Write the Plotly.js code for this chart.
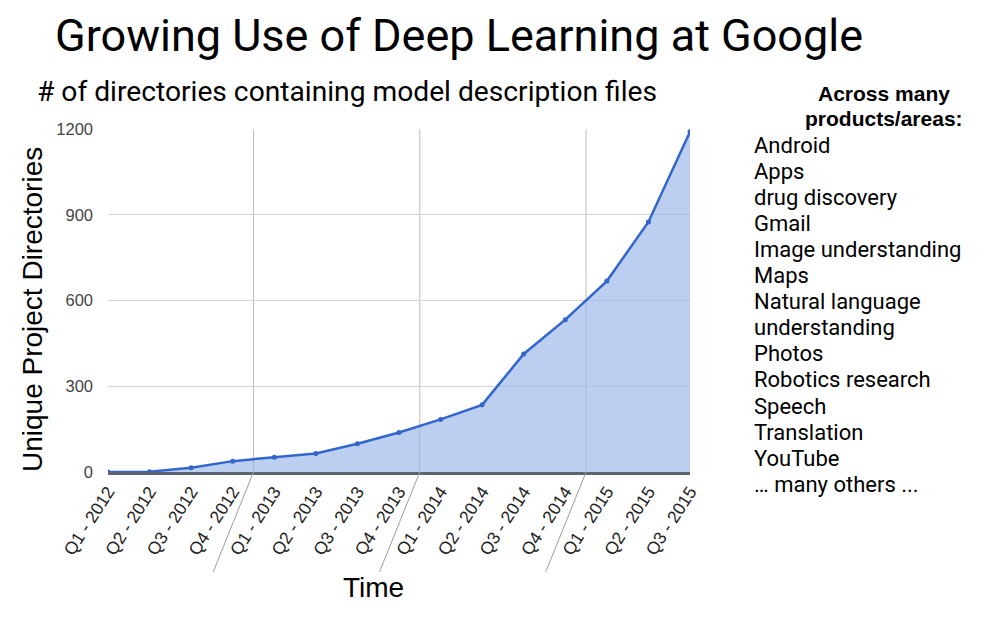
<!DOCTYPE html>
<html>
<head>
<meta charset="utf-8">
<script src="https://cdn.plot.ly/plotly-3.0.1.min.js"></script>
<style>
  body { margin: 0; background: #fff; }
  #plot { width: 1001px; height: 617px; }
</style>
</head>
<body>
<div id="plot"></div>
<script>
// quarters on the x axis
let quarters = [
    "Q1 - 2012", "Q2 - 2012", "Q3 - 2012", "Q4 - 2012",
    "Q1 - 2013", "Q2 - 2013", "Q3 - 2013", "Q4 - 2013",
    "Q1 - 2014", "Q2 - 2014", "Q3 - 2014", "Q4 - 2014",
    "Q1 - 2015", "Q2 - 2015", "Q3 - 2015"
];
// unique project directories
let directories = [0, 1, 15, 38, 52, 65, 99, 138, 184, 235, 413, 533, 668, 875, 1190];

let yTicks = [0, 300, 600, 900, 1200];

// list on the right side
let areasHeader = ["Across many", "products/areas:"];
let areas = [
    "Android", "Apps", "drug discovery", "Gmail", "Image understanding", "Maps",
    "Natural language", "understanding", "Photos", "Robotics research", "Speech",
    "Translation", "YouTube", "\u2026 many others ..."
];

// year boundaries sit halfway between Q4 and Q1
let yearBreaks = [3.5, 7.5, 11.5];

// plot area in pixels, used to place the loose text
let plotLeft = 108, plotWidth = 582, plotTop = 129, plotHeight = 343;
let plotBottom = plotTop + plotHeight;
function px(x) { return (x - plotLeft) / plotWidth; }
function py(y) { return (plotBottom - y) / plotHeight; }

let font = "'Liberation Sans', Arial, sans-serif";
let textFont = "Roboto, 'Liberation Sans', Arial, sans-serif";

let trace = {
    x: quarters,
    y: directories,
    type: "scatter",
    mode: "lines+markers",
    fill: "tozeroy",
    fillcolor: "rgba(153,182,234,0.65)",
    line: { color: "#3366cc", width: 2.5 },
    marker: { color: "#3366cc", size: 5 },
    hoverinfo: "x+y"
};

// vertical year lines, plus the slanted bits running down between the labels
let shapes = [];
yearBreaks.forEach(b => {
    shapes.push({
        type: "line", xref: "x", yref: "paper",
        x0: b, x1: b, y0: 0, y1: 1,
        line: { color: "#bdbdbd", width: 1 }, layer: "below"
    });
    shapes.push({
        type: "line", xref: "x", yref: "paper",
        x0: b, x1: b - 0.97, y0: 0, y1: py(572),
        line: { color: "#9e9e9e", width: 1 }
    });
});

let annotations = [];
annotations.push({
    text: "Growing Use of Deep Learning at Google",
    xref: "paper", yref: "paper", x: px(53), y: py(35),
    xanchor: "left", yanchor: "middle", showarrow: false,
    font: { family: textFont, size: 45, color: "#000" }
});
annotations.push({
    text: "# of directories containing model description files",
    xref: "paper", yref: "paper", x: px(35), y: py(92),
    xanchor: "left", yanchor: "middle", showarrow: false,
    font: { family: textFont, size: 28.2, color: "#000" }
});
annotations.push({
    text: "Unique Project Directories",
    xref: "paper", yref: "paper", x: px(32), y: py(310),
    xanchor: "center", yanchor: "middle", textangle: -90, showarrow: false,
    font: { family: font, size: 28, color: "#000" }
});
annotations.push({
    text: "Time",
    xref: "paper", yref: "paper", x: px(373), y: py(587),
    xanchor: "center", yanchor: "middle", showarrow: false,
    font: { family: font, size: 28, color: "#000" }
});
areasHeader.forEach((t, i) => {
    annotations.push({
        text: "<b>" + t + "</b>",
        xref: "paper", yref: "paper", x: px(884), y: py(93 + i * 25),
        xanchor: "center", yanchor: "middle", showarrow: false,
        font: { family: font, size: 21, color: "#000" }
    });
});
areas.forEach((t, i) => {
    annotations.push({
        text: t,
        xref: "paper", yref: "paper", x: px(752), y: py(145 + i * 26.1),
        xanchor: "left", yanchor: "middle", showarrow: false,
        font: { family: textFont, size: 22, color: "#000" }
    });
});

let layout = {
    width: 1001,
    height: 617,
    margin: { l: plotLeft, r: 1001 - plotLeft - plotWidth, t: plotTop, b: 617 - plotBottom, autoexpand: false },
    paper_bgcolor: "#fff",
    plot_bgcolor: "#fff",
    showlegend: false,
    font: { family: font },
    xaxis: {
        type: "category",
        range: [0, quarters.length - 1],
        showgrid: false,
        zeroline: false,
        showline: true,
        linecolor: "#5d6470",
        linewidth: 2.5,
        ticks: "",
        tickangle: -57,
        tickfont: { family: font, size: 17.5, color: "#222" }
    },
    yaxis: {
        range: [0, 1200],
        tickvals: yTicks,
        ticktext: yTicks.map(String),
        showgrid: true,
        gridcolor: "#d4d4d4",
        zeroline: false,
        ticks: "",
        ticklabelstandoff: 14,
        tickfont: { family: font, size: 16.5, color: "#444" }
    },
    shapes: shapes,
    annotations: annotations
};

Plotly.newPlot("plot", [trace], layout, { displayModeBar: false, staticPlot: true });
</script>
</body>
</html>
